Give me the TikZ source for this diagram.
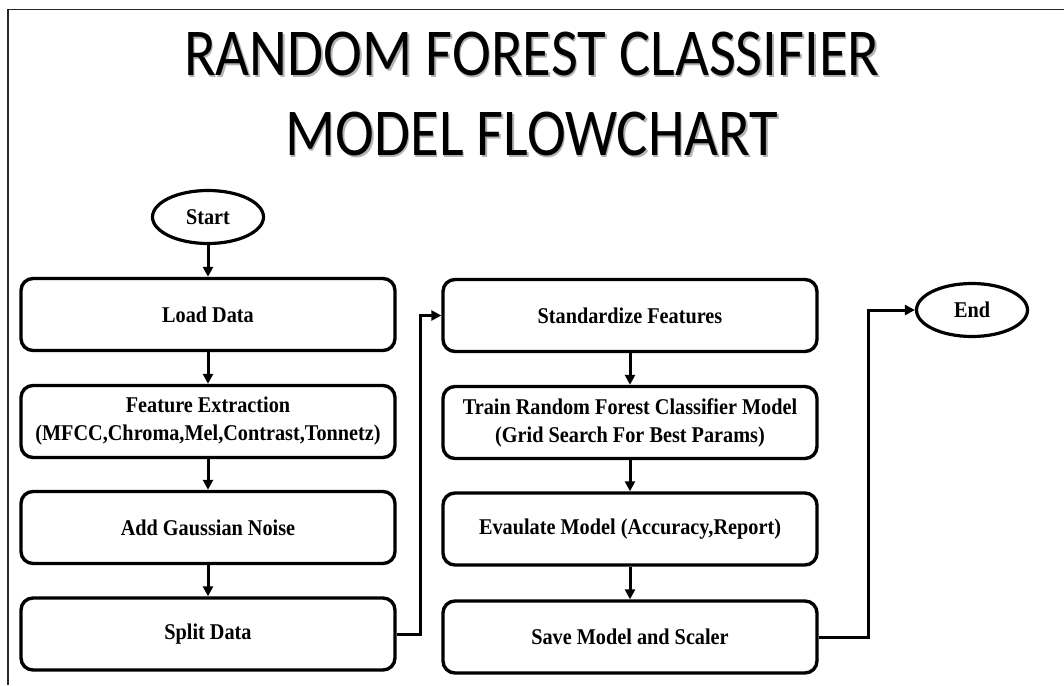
\documentclass[tikz,border=0pt]{standalone}
\usepackage{fontspec}
\setmainfont{Liberation Serif}
\newfontfamily\headingfont[FakeStretch=0.875]{Carlito}
\newfontfamily\boxfont[FakeStretch=0.9]{Liberation Serif}
\usetikzlibrary{arrows.meta,shapes.geometric}

\begin{document}
\begin{tikzpicture}[x=1pt,y=-1pt,
  heading/.style={font=\headingfont\fontsize{67}{67}\selectfont, inner sep=0pt},
  headshadow/.style={heading, text=black!30},
  stepbox/.style={draw, line width=3.4pt, rounded corners=12pt,
    minimum width=374pt, minimum height=72pt, inner sep=0pt,
    align=center, font=\boxfont\bfseries\fontsize{22.5}{28}\selectfont},
  terminal/.style={draw, ellipse, line width=3.2pt, inner sep=0pt,
    minimum width=111pt, minimum height=53pt,
    font=\boxfont\bfseries\fontsize{22.5}{28}\selectfont},
  flow/.style={line width=3pt, -{Triangle[width=10pt,length=10pt]}}]

  \useasboundingbox (0,0) rectangle (1064,685);

  % page frame (left and top edges)
  \draw[line width=1.8pt, black!85] (8,685) -- (8,9.5) -- (1064,9.5);

  % heading with a soft drop shadow
  \node[headshadow] at (533.5,55.5) {RANDOM FOREST CLASSIFIER};
  \node[heading] (h1) at (532,53.5) {RANDOM FOREST CLASSIFIER};
  \node[headshadow] at (533.5,136) {MODEL FLOWCHART};
  \node[heading] (h2) at (532,134) {MODEL FLOWCHART};

  % left column
  \node[terminal] (start) at (208,217) {Start};
  \node[stepbox] (load)  at (208,314.5) {Load Data};
  \node[stepbox] (feat)  at (208,421.5) {Feature Extraction\\(MFCC,Chroma,Mel,Contrast,Tonnetz)};
  \node[stepbox] (noise) at (208,527.5) {Add Gaussian Noise};
  \node[stepbox] (split) at (208,634) {Split Data};

  % right column
  \node[stepbox] (std)   at (630,315.5) {Standardize Features};
  \node[stepbox] (train) at (630,422.5) {Train Random Forest Classifier Model\\(Grid Search For Best Params)};
  \node[stepbox] (eval)  at (630,529) {Evaulate Model (Accuracy,Report)};
  \node[stepbox] (save)  at (630,637) {Save Model and Scaler};

  \node[terminal] (end) at (972,310) {End};

  % connectors
  \draw[flow] (start) -- (load);
  \draw[flow] (load) -- (feat);
  \draw[flow] (feat) -- (noise);
  \draw[flow] (noise) -- (split);
  \draw[flow] (split.east) -- ++(24,0) |- (std.west);
  \draw[flow] (std) -- (train);
  \draw[flow] (train) -- (eval);
  \draw[flow] (eval) -- (save);
  \draw[flow] (save.east) -- ++(50,0) |- (end.west);
\end{tikzpicture}
\end{document}
